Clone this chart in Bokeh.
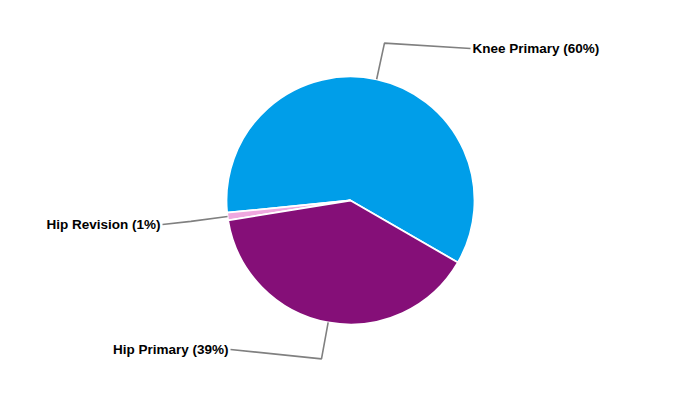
import math
from bokeh.plotting import figure
from bokeh.models import Range1d, ColumnDataSource
from bokeh.embed import file_html
from bokeh.resources import INLINE

categories = ["Knee Primary", "Hip Revision", "Hip Primary"]
values = [59.9, 1.0, 39.1]
colors = ["#009EE9", "#EFA8DF", "#850F78"]

W, H = 684, 384
p = figure(width=W, height=H, output_backend="svg", toolbar_location=None,
           x_range=Range1d(0, W), y_range=Range1d(400 - H, 400),
           min_border=0, outline_line_color=None)
p.axis.visible = False
p.grid.visible = False
p.background_fill_color = "white"
p.border_fill_color = "white"

cx, cy, r = 350, 200, 124
start_deg = -30.0
total = sum(values)
starts, ends, mids = [], [], []
a = start_deg
for v in values:
    span = v / total * 360.0
    starts.append(math.radians(a))
    ends.append(math.radians(a + span))
    mids.append(math.radians(a + span / 2))
    a += span

src = ColumnDataSource(dict(start=starts, end=ends, color=colors))
p.wedge(x=cx, y=cy, radius=r, start_angle="start", end_angle="end",
        fill_color="color", line_color="white", line_width=1.8, source=src)

label_pos = {
    "Knee Primary": (472, 48, "left"),
    "Hip Revision": (160, 224, "right"),
    "Hip Primary": (228, 349, "right"),
}
r_out = 161
for cat, v, m in zip(categories, values, mids):
    pct = round(v / total * 100)
    lx, ly, align = label_pos[cat]
    ly = 400 - ly
    x0, y0 = cx + r * math.cos(m), cy + r * math.sin(m)
    x1, y1 = cx + r_out * math.cos(m), cy + r_out * math.sin(m)
    x2 = lx - 2 if align == "left" else lx + 2
    p.line([x0, x1, x2], [y0, y1, ly], line_color="#808080", line_width=1.6)
    p.text(x=[lx], y=[ly], text=[f"{cat} ({pct}%)"], text_align=align,
           text_baseline="middle", text_font_size="13.5px", text_font_style="bold",
           text_color="#000000", text_font={"value": "Liberation Sans"})

open("out.html", "w").write(file_html(p, INLINE))
